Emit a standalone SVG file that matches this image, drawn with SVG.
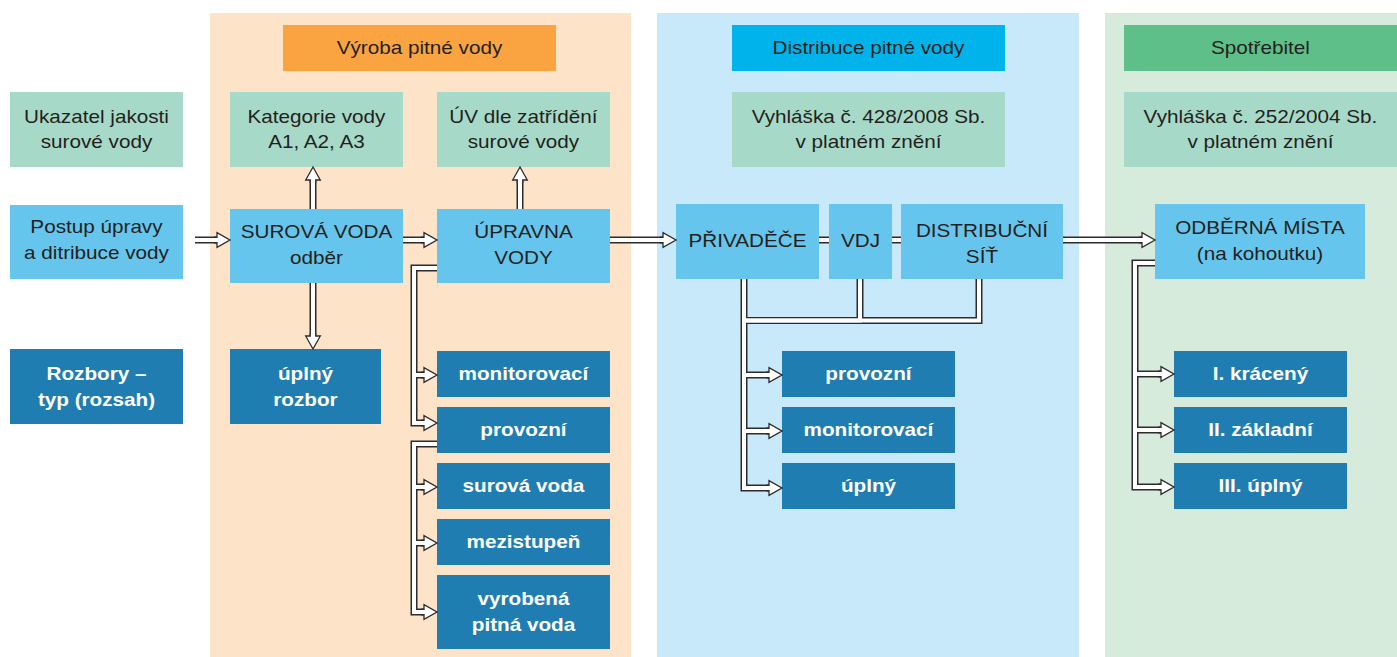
<svg xmlns="http://www.w3.org/2000/svg" width="1397" height="657" viewBox="0 0 1397 657">
<style>
.t{font-family:"Liberation Sans",Arial,Helvetica,sans-serif;font-size:18px;text-anchor:middle;fill:#231f20;transform-box:fill-box;transform-origin:center;transform:scaleX(1.15)}
.b{font-weight:bold;fill:#ffffff}
.teal{fill:#a7d9c8}
.lb{fill:#66c5ec}
.db{fill:#1f7db1}
.eo{fill:none;stroke:#2e2b2c;stroke-width:7;stroke-linejoin:miter;stroke-linecap:butt}
.ei{fill:none;stroke:#ffffff;stroke-width:4;stroke-linejoin:miter;stroke-linecap:butt}
</style>
<defs>
<marker id="ah" markerUnits="userSpaceOnUse" orient="auto" viewBox="-6 -15 30 30" markerWidth="30" markerHeight="30" refX="0" refY="0" overflow="visible">
<path d="M-3,-2.75 H0 V-7.3 L13,0 L0,7.3 V2.75 H-3" fill="#ffffff" stroke="#2e2b2c" stroke-width="1.3" stroke-linejoin="miter"/>
</marker>
</defs>
<rect width="1397" height="657" fill="#ffffff"/>
<g id="panels">
<rect x="210" y="13" width="421" height="644" fill="#fde3c8"/>
<rect x="657" y="13" width="422" height="644" fill="#c7e9f9"/>
<rect x="1105" y="13" width="292" height="644" fill="#d7ebdc"/>
</g>
<g id="n-ukazatel"><rect class="teal" x="10" y="92" width="173" height="75"/><text class="t"><tspan x="96.5" y="123">Ukazatel jakosti</tspan><tspan x="96.5" y="148">surové vody</tspan></text></g>
<g id="n-postup"><rect class="lb" x="10" y="205" width="173" height="74"/><text class="t"><tspan x="96.5" y="233">Postup úpravy</tspan><tspan x="96.5" y="259">a ditribuce vody</tspan></text></g>
<g id="n-rozbory"><rect class="db" x="10" y="349" width="173" height="75"/><text class="t b"><tspan x="96.5" y="380">Rozbory –</tspan><tspan x="96.5" y="406">typ (rozsah)</tspan></text></g>
<g id="n-hdr-vyroba"><rect x="283" y="25" width="273" height="46" fill="#f9a441"/><text class="t" x="419.5" y="54">Výroba pitné vody</text></g>
<g id="n-kategorie"><rect class="teal" x="230" y="92" width="173" height="75"/><text class="t"><tspan x="316.5" y="123">Kategorie vody</tspan><tspan x="316.5" y="148">A1, A2, A3</tspan></text></g>
<g id="n-uv"><rect class="teal" x="437" y="92" width="173" height="75"/><text class="t"><tspan x="523.5" y="123">ÚV dle zatřídění</tspan><tspan x="523.5" y="148">surové vody</tspan></text></g>
<g id="n-surova"><rect class="lb" x="230" y="209" width="173" height="74"/><text class="t"><tspan x="316.5" y="238">SUROVÁ VODA</tspan><tspan x="316.5" y="264">odběr</tspan></text></g>
<g id="n-upravna"><rect class="lb" x="437" y="209" width="173" height="74"/><text class="t"><tspan x="523.5" y="238">ÚPRAVNA</tspan><tspan x="523.5" y="264">VODY</tspan></text></g>
<g id="n-uplny-rozbor"><rect class="db" x="230" y="349" width="151" height="75"/><text class="t b"><tspan x="305.5" y="380">úplný</tspan><tspan x="305.5" y="406">rozbor</tspan></text></g>
<g id="n-v-monitorovaci"><rect class="db" x="437" y="351" width="173" height="46"/><text class="t b" x="523.5" y="380">monitorovací</text></g>
<g id="n-v-provozni"><rect class="db" x="437" y="407" width="173" height="46"/><text class="t b" x="523.5" y="436">provozní</text></g>
<g id="n-v-surova"><rect class="db" x="437" y="463" width="173" height="46"/><text class="t b" x="523.5" y="492">surová voda</text></g>
<g id="n-v-mezistupen"><rect class="db" x="437" y="519" width="173" height="46"/><text class="t b" x="523.5" y="548">mezistupeň</text></g>
<g id="n-v-vyrobena"><rect class="db" x="437" y="575" width="173" height="74"/><text class="t b"><tspan x="523.5" y="605">vyrobená</tspan><tspan x="523.5" y="631">pitná voda</tspan></text></g>
<g id="n-hdr-distribuce"><rect x="732" y="25" width="273" height="46" fill="#00b4eb"/><text class="t" x="868.5" y="54">Distribuce pitné vody</text></g>
<g id="n-vyhlaska428"><rect class="teal" x="732" y="92" width="273" height="75"/><text class="t"><tspan x="868.5" y="123">Vyhláška č. 428/2008 Sb.</tspan><tspan x="868.5" y="148">v platném znění</tspan></text></g>
<g id="n-privadece"><rect class="lb" x="676" y="204" width="143" height="75"/><text class="t" x="747.5" y="247">PŘIVADĚČE</text></g>
<g id="n-vdj"><rect class="lb" x="829" y="204" width="63" height="75"/><text class="t" x="860.5" y="247">VDJ</text></g>
<g id="n-distribucni"><rect class="lb" x="901" y="204" width="162" height="75"/><text class="t"><tspan x="982" y="237">DISTRIBUČNÍ</tspan><tspan x="982" y="263">SÍŤ</tspan></text></g>
<g id="n-d-provozni"><rect class="db" x="782" y="351" width="173" height="46"/><text class="t b" x="868.5" y="380">provozní</text></g>
<g id="n-d-monitorovaci"><rect class="db" x="782" y="407" width="173" height="46"/><text class="t b" x="868.5" y="436">monitorovací</text></g>
<g id="n-d-uplny"><rect class="db" x="782" y="463" width="173" height="46"/><text class="t b" x="868.5" y="492">úplný</text></g>
<g id="n-hdr-spotrebitel"><rect x="1124" y="25" width="273" height="46" fill="#5ec088"/><text class="t" x="1260.5" y="54">Spotřebitel</text></g>
<g id="n-vyhlaska252"><rect class="teal" x="1124" y="92" width="273" height="75"/><text class="t"><tspan x="1260.5" y="123">Vyhláška č. 252/2004 Sb.</tspan><tspan x="1260.5" y="148">v platném znění</tspan></text></g>
<g id="n-odberna"><rect class="lb" x="1155" y="204" width="210" height="75"/><text class="t"><tspan x="1260" y="234">ODBĚRNÁ MÍSTA</tspan><tspan x="1260" y="260">(na kohoutku)</tspan></text></g>
<g id="n-s-kraceny"><rect class="db" x="1174" y="351" width="173" height="46"/><text class="t b" x="1260.5" y="380">I. krácený</text></g>
<g id="n-s-zakladni"><rect class="db" x="1174" y="407" width="173" height="46"/><text class="t b" x="1260.5" y="436">II. základní</text></g>
<g id="n-s-uplny"><rect class="db" x="1174" y="463" width="173" height="46"/><text class="t b" x="1260.5" y="492">III. úplný</text></g>
<g id="connectors">
<g class="eo">
<path d="M195,240 H217"/><path d="M403,240 H424"/><path d="M610,240 H663"/><path d="M1063,240 H1142"/>
<path d="M313,209 V180"/><path d="M520,209 V180"/><path d="M313,283 V336"/>
<path d="M819,240 H829"/><path d="M892,240 H901"/>
<path d="M437,268 H414 V423 H424"/><path d="M414,375 H424"/>
<path d="M437,444 H414 V612 H424"/><path d="M414,487 H424"/><path d="M414,543 H424"/>
<path d="M744,279 V488 H769"/><path d="M744,375 H769"/><path d="M744,431 H769"/>
<path d="M860,279 V320.5 H744"/><path d="M979,279 V320.5 H744"/>
<path d="M1155,263 H1135 V487 H1161"/><path d="M1135,374 H1161"/><path d="M1135,430 H1161"/>
</g>
<g class="ei">
<path d="M195,240 H217" marker-end="url(#ah)"/><path d="M403,240 H424" marker-end="url(#ah)"/><path d="M610,240 H663" marker-end="url(#ah)"/><path d="M1063,240 H1142" marker-end="url(#ah)"/>
<path d="M313,209 V180" marker-end="url(#ah)"/><path d="M520,209 V180" marker-end="url(#ah)"/><path d="M313,283 V336" marker-end="url(#ah)"/>
<path d="M819,240 H829"/><path d="M892,240 H901"/>
<path d="M437,268 H414 V423 H424" marker-end="url(#ah)"/><path d="M414,375 H424" marker-end="url(#ah)"/>
<path d="M437,444 H414 V612 H424" marker-end="url(#ah)"/><path d="M414,487 H424" marker-end="url(#ah)"/><path d="M414,543 H424" marker-end="url(#ah)"/>
<path d="M744,279 V488 H769" marker-end="url(#ah)"/><path d="M744,375 H769" marker-end="url(#ah)"/><path d="M744,431 H769" marker-end="url(#ah)"/>
<path d="M860,279 V320.5 H744"/><path d="M979,279 V320.5 H744"/>
<path d="M1155,263 H1135 V487 H1161" marker-end="url(#ah)"/><path d="M1135,374 H1161" marker-end="url(#ah)"/><path d="M1135,430 H1161" marker-end="url(#ah)"/>
</g>
</g>
</svg>
